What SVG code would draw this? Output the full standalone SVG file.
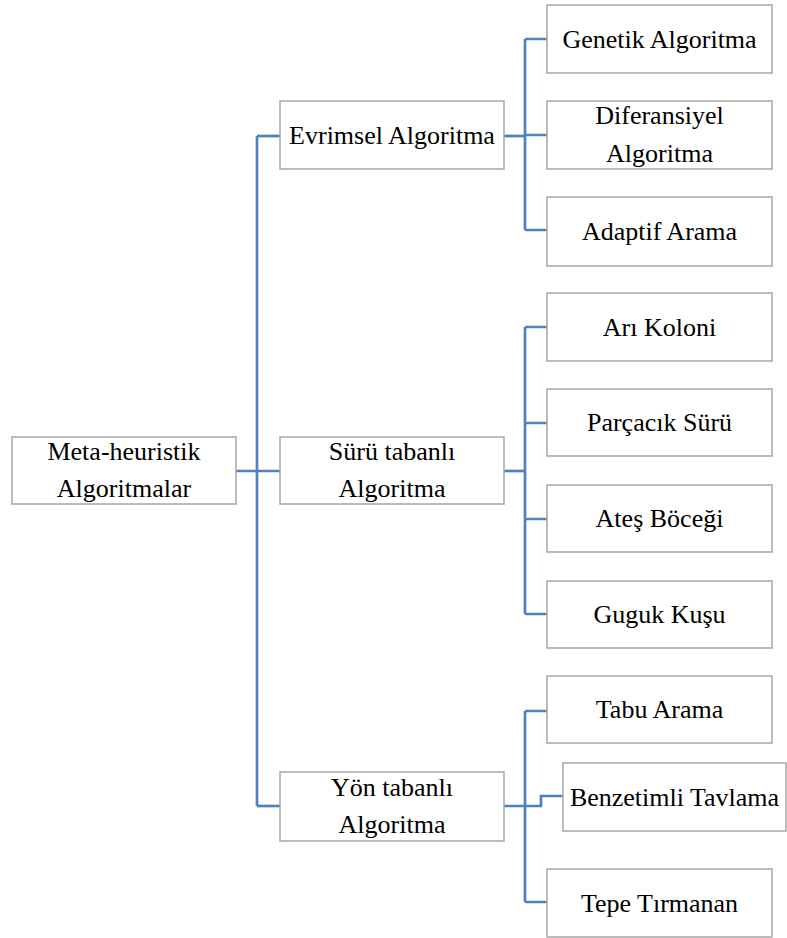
<svg xmlns="http://www.w3.org/2000/svg" width="787" height="938" viewBox="0 0 787 938">
<style>
rect.box{fill:#fff;stroke:#a6a6a6;stroke-width:1.5}
text{font-family:"Liberation Serif","Times New Roman",serif;font-size:26px;fill:#000;text-anchor:middle}
.conn path{fill:none;stroke:#4f81bd;stroke-width:2.7}
</style>
<rect width="787" height="938" fill="#fff"/>
<g class="conn">
<path d="M236,471H280"/>
<path d="M257,136V806"/>
<path d="M257,136H280"/>
<path d="M257,806H280"/>
<path d="M504,136H525"/>
<path d="M525,39V230"/>
<path d="M525,39H547M525,135H547M525,230H547"/>
<path d="M504,471H525"/>
<path d="M525,327V614"/>
<path d="M525,327H547M525,423H547M525,519H547M525,614H547"/>
<path d="M504,806H541V796H563"/>
<path d="M525,711V902"/>
<path d="M525,711H547M525,902H547"/>
</g>
<g id="root"><rect class="box" x="12" y="437" width="224" height="67"/><text x="124" y="460">Meta-heuristik</text><text x="124" y="497">Algoritmalar</text></g>
<g id="evrimsel"><rect class="box" x="280" y="101" width="224" height="68"/><text x="392" y="143.5">Evrimsel Algoritma</text></g>
<g id="suru"><rect class="box" x="280" y="437" width="224" height="67"/><text x="392" y="460">Sürü tabanlı</text><text x="392" y="497">Algoritma</text></g>
<g id="yon"><rect class="box" x="280" y="772" width="224" height="69"/><text x="392" y="796">Yön tabanlı</text><text x="392" y="833">Algoritma</text></g>
<g id="genetik"><rect class="box" x="547" y="5" width="225" height="68"/><text x="659.5" y="47.5">Genetik Algoritma</text></g>
<g id="diferansiyel"><rect class="box" x="547" y="101" width="225" height="68"/><text x="659.5" y="124">Diferansiyel</text><text x="659.5" y="162">Algoritma</text></g>
<g id="adaptif"><rect class="box" x="547" y="197" width="225" height="69"/><text x="659.5" y="240">Adaptif Arama</text></g>
<g id="ari"><rect class="box" x="547" y="293" width="225" height="68"/><text x="659.5" y="335.5">Arı Koloni</text></g>
<g id="parcacik"><rect class="box" x="547" y="389" width="225" height="67"/><text x="659.5" y="431">Parçacık Sürü</text></g>
<g id="ates"><rect class="box" x="547" y="485" width="225" height="67"/><text x="659.5" y="527">Ateş Böceği</text></g>
<g id="guguk"><rect class="box" x="547" y="581" width="225" height="67"/><text x="659.5" y="623">Guguk Kuşu</text></g>
<g id="tabu"><rect class="box" x="547" y="676" width="225" height="67"/><text x="659.5" y="718">Tabu Arama</text></g>
<g id="benzetimli"><rect class="box" x="563" y="763" width="223" height="68"/><text x="674.5" y="805.5">Benzetimli Tavlama</text></g>
<g id="tepe"><rect class="box" x="547" y="869" width="225" height="68"/><text x="659.5" y="911.5">Tepe Tırmanan</text></g>
</svg>
